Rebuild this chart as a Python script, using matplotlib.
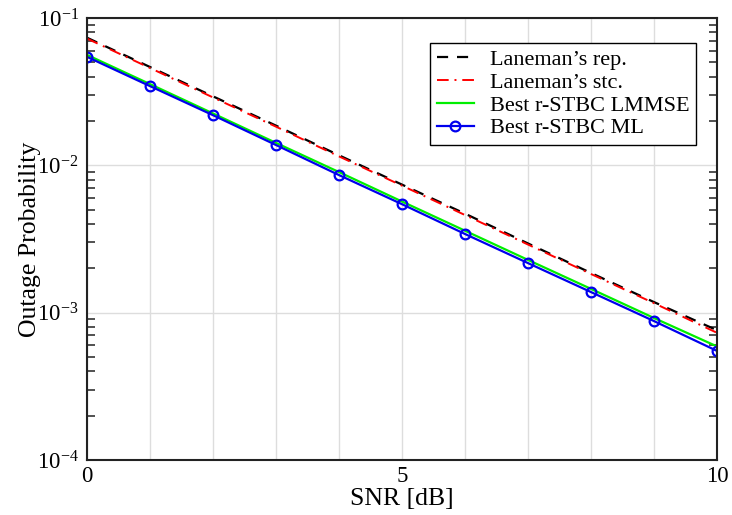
import matplotlib

matplotlib.use("Agg")
import matplotlib.pyplot as plt
from matplotlib.ticker import FixedLocator, FixedFormatter, NullFormatter
import numpy as np

# Datos (probabilidad de outage vs SNR)
snr_db = [0, 1, 2, 3, 4, 5, 6, 7, 8, 9, 10]
laneman_rep = [0.0735, 0.0465, 0.0294, 0.0186, 0.0117, 0.0074, 0.0047, 0.00295, 0.00186, 0.00118, 0.00076]
laneman_stc = [0.0725, 0.0458, 0.0289, 0.0183, 0.0115, 0.00728, 0.0046, 0.0029, 0.00183, 0.00116, 0.00073]
best_lmmse = [0.0562, 0.0356, 0.0225, 0.0142, 0.0090, 0.00568, 0.00360, 0.00228, 0.00145, 0.00092, 0.00059]
best_ml = [0.0545, 0.0345, 0.0219, 0.01374, 0.00859, 0.00545, 0.00342, 0.00217, 0.00138, 0.000877, 0.000550]

x_ticks = [0, 5, 10]
y_ticks = [1e-4, 1e-3, 1e-2, 1e-1]
y_tick_labels = [r"$\mathregular{10^{-4}}$", r"$\mathregular{10^{-3}}$",
                 r"$\mathregular{10^{-2}}$", r"$\mathregular{10^{-1}}$"]

plt.rcParams["font.family"] = ["Liberation Serif", "DejaVu Serif"]
plt.rcParams["mathtext.fontset"] = "custom"
plt.rcParams["mathtext.rm"] = "Liberation Serif"

fig = plt.figure(figsize=(7.32, 5.15), dpi=100)
ax = fig.add_axes([0.1189, 0.1068, 0.8606, 0.8582])

ax.plot(snr_db, laneman_rep, color="black", linestyle=(0, (5, 4)), lw=1.6,
        label="Laneman\u2019s rep.")
ax.plot(snr_db, laneman_stc, color="red", linestyle=(0, (6, 3, 1, 3)), lw=1.4,
        label="Laneman\u2019s stc.")
ax.plot(snr_db, best_lmmse, color="#00ee00", lw=1.6, label="Best r-STBC LMMSE")
ax.plot(snr_db, best_ml, color="#0000ee", lw=1.6, marker="o", markersize=7,
        markerfacecolor="none", markeredgewidth=1.6, label="Best r-STBC ML")

ax.set_yscale("log")
ax.set_xlim(0, 10)
ax.set_ylim(1e-4, 1e-1)

ax.xaxis.set_major_locator(FixedLocator(x_ticks))
ax.xaxis.set_minor_locator(FixedLocator(snr_db))
ax.yaxis.set_major_locator(FixedLocator(y_ticks))
ax.yaxis.set_major_formatter(FixedFormatter(y_tick_labels))
ax.yaxis.set_minor_locator(matplotlib.ticker.LogLocator(base=10, subs=np.arange(2, 10)))
ax.yaxis.set_minor_formatter(NullFormatter())

ax.grid(True, which="major", axis="y", color="#dddddd", lw=1)
ax.grid(True, which="both", axis="x", color="#dddddd", lw=1)

ax.tick_params(axis="x", which="both", length=0, labelsize=16.5, pad=4)
ax.tick_params(axis="y", which="major", length=0, labelsize=16.5, pad=6)
ax.tick_params(axis="y", which="minor", direction="in", length=6, width=1.2,
               left=True, right=True, color="#333333")
for sp in ax.spines.values():
    sp.set_linewidth(1.5)
    sp.set_color("#222222")

ax.set_xlabel("SNR [dB]", fontsize=18.5, labelpad=1)
ax.set_ylabel("Outage Probability", fontsize=18.5, labelpad=-3)

leg = ax.legend(loc="upper right", bbox_to_anchor=(0.967, 0.944), fontsize=16,
                frameon=True, fancybox=False, framealpha=1, borderpad=0.3,
                labelspacing=0.1, handlelength=1.7, handletextpad=0.7,
                borderaxespad=0)
leg.get_frame().set_edgecolor("black")
leg.get_frame().set_linewidth(1.0)

fig.savefig("out.png", dpi=100)
